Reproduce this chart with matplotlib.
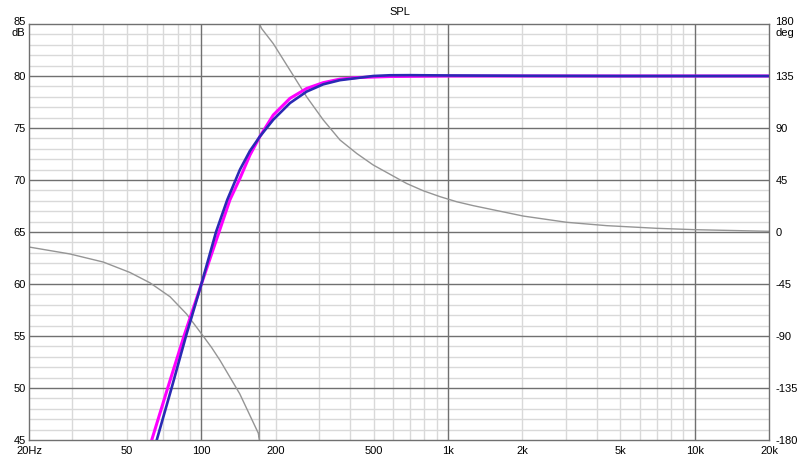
import matplotlib
matplotlib.use("Agg")
import matplotlib.pyplot as plt
from matplotlib.transforms import blended_transform_factory, offset_copy

# ---------------- data ----------------
blue_f = [65.9, 75.7, 86.6, 100, 114.6, 127.3, 143.3, 157.3, 172.8, 195.6, 228.6, 267, 311.8,
          364.6, 426, 497, 581, 700, 1000, 2000, 5000, 20000]
blue_db = [45, 50, 55, 60, 65, 68.1, 71.0, 72.8, 74.2, 75.8, 77.4, 78.5, 79.2,
           79.6, 79.8, 80.0, 80.07, 80.08, 80.05, 80.02, 80.0, 80.0]

mag_f = [62.9, 73.0, 85.0, 100, 117.9, 130.5, 143.3, 157.3, 172.8, 195.6, 228.6, 267, 311.8,
         364.6, 426, 497, 581, 1000, 20000]
mag_db = [45, 50, 55, 60, 65, 68.1, 70.16, 72.4, 74.2, 76.25, 77.85, 78.8, 79.36,
          79.7, 79.85, 79.9, 79.95, 80.0, 80.0]

phase_f = [20, 29.3, 40, 51.3, 61.9, 74.6, 87.1, 100, 110, 118.9, 143, 170, 172,
           172, 175.5, 195.6, 228.6, 267, 311.8, 364.6, 426, 497, 581, 679, 793, 927,
           1083, 1265, 2017, 3024, 4392, 7006, 10046, 20000]
phase_deg = [-13, -19, -26, -35, -44, -56, -71, -88, -100, -111, -140, -174, -180,
             180, 176, 163, 140, 117, 97, 79.6, 68, 58, 50, 42, 35.7, 30.6,
             26.2, 22.8, 13.8, 8.4, 5.5, 3.2, 2.0, 0.6]

x_ticks = [20, 50, 100, 200, 500, 1000, 2000, 5000, 10000, 20000]
x_labels = ['20Hz', '50', '100', '200', '500', '1k', '2k', '5k', '10k', '20k']
x_major_grid = [100, 1000, 10000]
x_minor_grid = [30, 40, 50, 60, 70, 80, 90, 200, 300, 400, 500, 600, 700, 800, 900,
                2000, 3000, 4000, 5000, 6000, 7000, 8000, 9000]
db_ticks = [45, 50, 55, 60, 65, 70, 75, 80]
deg_ticks = [-180, -135, -90, -45, 0, 45, 90, 135]

# ---------------- style ----------------
plt.rcParams['font.family'] = ['Liberation Sans', 'DejaVu Sans']
FS = 8.0
MAJ = '#707070'
MIN = '#d9d9d9'

fig = plt.figure(figsize=(8, 4.62), dpi=100)
W, H = 800, 462
ax = fig.add_axes([29 / W, 1 - 440 / H, 740 / W, 416 / H])
ax.set_xscale('log')
ax.set_xlim(20, 20000)
ax.set_ylim(45, 85)

# twin axis for phase scale
ax2 = ax.twinx()
ax2.set_ylim(-180, 180)
for s in ax2.spines.values():
    s.set_visible(False)
ax2.set_zorder(1)
ax.set_zorder(2)
ax.patch.set_visible(False)

# grid
for v in range(46, 85):
    if v % 5 != 0:
        ax.axhline(v, color=MIN, lw=1, zorder=0)
for v in x_minor_grid:
    ax.axvline(v, color=MIN, lw=1, zorder=0)
for v in range(50, 85, 5):
    ax.axhline(v, color=MAJ, lw=1, zorder=0.5)
for v in x_major_grid:
    ax.axvline(v, color=MAJ, lw=1, zorder=0.5)

for s in ax.spines.values():
    s.set_color(MAJ)
    s.set_linewidth(1)

# phase drawn in ax2 data coordinates, above grid
ax.plot(phase_f, phase_deg, color='#959595', lw=1.0, zorder=2,
        solid_joinstyle='round', transform=ax2.transData)

# SPL curves
ax.plot(mag_f, mag_db, color='#ff00ff', lw=2.2, zorder=3, solid_joinstyle='round')
ax.plot(blue_f, blue_db, color='#2a2ab4', lw=1.9, zorder=4, solid_joinstyle='round')

# ticks
ax.set_xticks(x_ticks)
ax.set_xticklabels(x_labels)
ax.xaxis.set_minor_locator(matplotlib.ticker.NullLocator())
ax.set_yticks(db_ticks)
ax.set_yticklabels([str(t) for t in db_ticks])
ax.tick_params(axis='x', length=0, pad=4, labelsize=FS, colors='black')
ax.tick_params(axis='y', length=0, pad=2.5, labelsize=FS, colors='black')
ax2.set_yticks(deg_ticks)
ax2.set_yticklabels([str(t) for t in deg_ticks])
ax2.tick_params(axis='y', length=0, pad=4.5, labelsize=FS, colors='black')

# top unit labels
tl = blended_transform_factory(ax.transAxes, ax.transAxes)
ax.text(-3.5 / 740, 1.0, '85', transform=offset_copy(tl, fig=fig, x=0, y=1.5, units='points'),
        ha='right', va='center', fontsize=FS)
ax.text(-3.5 / 740, 1.0, 'dB', transform=offset_copy(tl, fig=fig, x=0, y=-6.5, units='points'),
        ha='right', va='center', fontsize=FS)
ax.text(1 + 6.5 / 740, 1.0, '180', transform=offset_copy(tl, fig=fig, x=0, y=1.5, units='points'),
        ha='left', va='center', fontsize=FS)
ax.text(1 + 6.5 / 740, 1.0, 'deg', transform=offset_copy(tl, fig=fig, x=0, y=-6.5, units='points'),
        ha='left', va='center', fontsize=FS)

fig.text(400 / W, 1 - 12 / H, 'SPL', ha='center', va='center', fontsize=FS)

fig.savefig('out.png', dpi=100)
